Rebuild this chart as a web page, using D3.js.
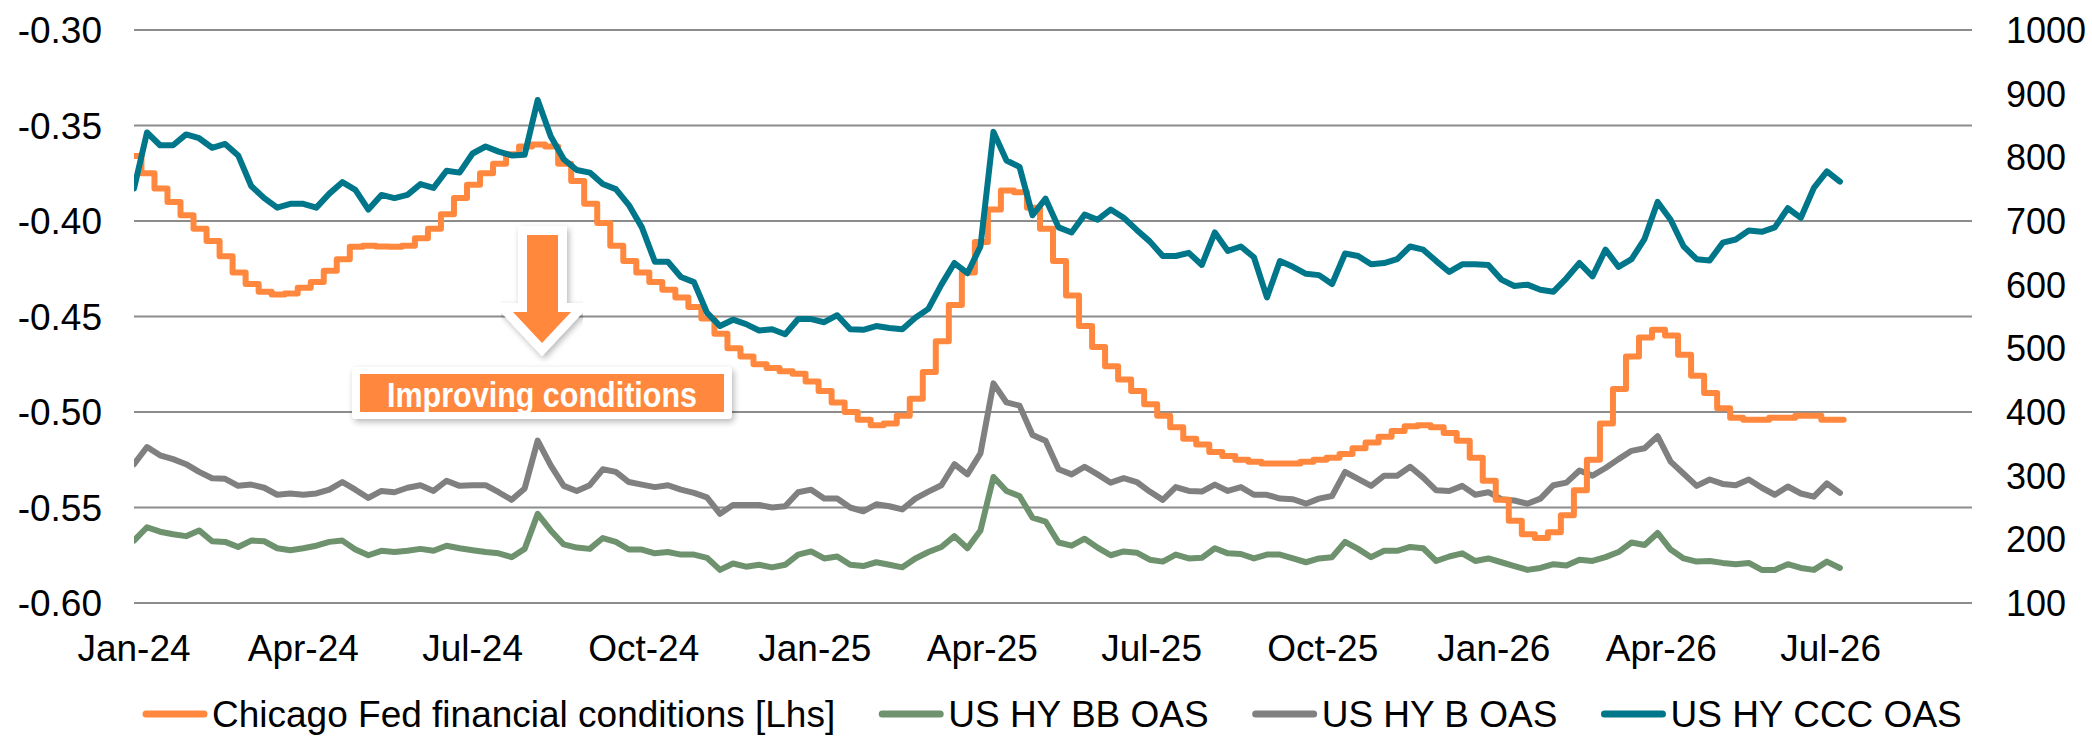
<!DOCTYPE html>
<html>
<head>
<meta charset="utf-8">
<script src="https://cdn.jsdelivr.net/npm/d3@7"></script>
<style>
  html, body { margin: 0; padding: 0; background: #fff; }
  svg { display: block; font-family: "Liberation Sans", Arial, sans-serif; }
</style>
</head>
<body>
<div id="app"></div>
<script>
// ---- data ----

// Chicago Fed NFCI, weekly readings starting 29 Dec 2023 (left axis)
const nfciStart = new Date(2023, 11, 29)
const nfciEnd = new Date(2026, 6, 8)
const nfci = [
  -0.366, -0.375, -0.383, -0.390, -0.397, -0.404, -0.4105, -0.4185, -0.427, -0.433,
  -0.437, -0.4385, -0.438, -0.435, -0.432, -0.426, -0.420, -0.4135, -0.413, -0.4133,
  -0.4135, -0.413, -0.409, -0.404, -0.3965, -0.388, -0.381, -0.375, -0.370, -0.365,
  -0.361, -0.360, -0.361, -0.370, -0.379, -0.391, -0.401, -0.413, -0.421, -0.427,
  -0.432, -0.436, -0.440, -0.445, -0.451, -0.459, -0.4666, -0.471, -0.475, -0.477,
  -0.4786, -0.480, -0.484, -0.489, -0.495, -0.500, -0.504, -0.507, -0.506, -0.502,
  -0.493, -0.479, -0.463, -0.444, -0.427, -0.411, -0.394, -0.384, -0.385, -0.393,
  -0.404, -0.421, -0.439, -0.455, -0.466, -0.476, -0.483, -0.489, -0.496, -0.502,
  -0.508, -0.514, -0.517, -0.521, -0.523, -0.525, -0.526, -0.527, -0.527, -0.527,
  -0.526, -0.525, -0.524, -0.522, -0.519, -0.516, -0.513, -0.510, -0.5075, -0.507,
  -0.508, -0.511, -0.515, -0.524, -0.536, -0.546, -0.557, -0.564, -0.566, -0.563,
  -0.554, -0.541, -0.525, -0.506, -0.488, -0.471, -0.461, -0.457, -0.460, -0.470,
  -0.481, -0.490, -0.498, -0.503, -0.504, -0.504, -0.503, -0.503, -0.502, -0.502,
  -0.504, -0.504
]

// HY OAS (bp), weekly readings starting 1 Jan 2024 (right axis)
const spreadStart = new Date(2024, 0, 1)
const hyBB = [
  198, 219, 212, 208, 205, 214, 197, 196, 188, 198,
  197, 186, 183, 186, 190, 196, 198, 184, 175, 182,
  180, 182, 185, 182, 190, 186, 183, 180, 178, 172,
  185, 240, 214, 192, 187, 185, 202, 196, 184, 184,
  178, 180, 176, 176, 171, 152, 162, 157, 160, 156,
  160, 176, 181, 170, 173, 160, 158, 164, 160, 156,
  170, 180, 188, 205, 186, 214, 298, 276, 268, 234,
  228, 195, 190, 201, 187, 175, 181, 179, 168, 165,
  176, 170, 171, 186, 178, 177, 170, 176, 176, 170,
  164, 170, 172, 196, 185, 172, 182, 182, 188, 186,
  166, 173, 178, 166, 170, 164, 158, 152, 155, 161,
  159, 168, 166, 172, 180, 195, 191, 210, 184, 170,
  165, 166, 163, 161, 163, 152, 152, 161, 155, 152,
  165, 155
]
const hyB = [
  318, 345, 332, 326, 318, 306, 296, 295, 284, 286,
  281, 270, 272, 270, 272, 278, 290, 278, 265, 276,
  274, 281, 285, 276, 292, 284, 285, 285, 274, 262,
  280, 355, 316, 284, 276, 285, 310, 306, 290, 286,
  282, 285, 278, 273, 266, 240, 254, 254, 254, 250,
  252, 274, 278, 264, 264, 250, 244, 255, 252, 247,
  264, 275, 285, 318, 302, 335, 445, 415, 410, 364,
  355, 310, 302, 314, 302, 289, 296, 290, 275, 262,
  282, 276, 275, 286, 276, 282, 270, 270, 264, 263,
  256, 264, 268, 306, 295, 284, 300, 300, 314, 297,
  277, 276, 284, 270, 274, 263, 261, 256, 264, 285,
  289, 308, 300, 312, 326, 339, 343, 362, 322, 303,
  284, 294, 287, 285, 294, 281, 270, 283, 272, 267,
  288, 273
]
const hyCCC = [
  751, 839, 819, 819, 836, 830, 815, 821, 803, 755,
  736, 721, 727, 727, 721, 743, 761, 749, 718, 741,
  736, 741, 758, 752, 779, 776, 806, 817, 809, 803,
  804, 890, 833, 797, 780, 776, 758, 750, 725, 690,
  636, 636, 612, 604, 556, 535, 545, 538, 528, 530,
  522, 546, 546, 541, 552, 530, 529, 535, 532, 530,
  548, 562, 600, 634, 618, 660, 840, 795, 785, 709,
  735, 690, 682, 710, 702, 718, 705, 686, 668, 645,
  645, 650, 631, 682, 653, 660, 643, 580, 637, 628,
  617, 615, 601, 649, 645, 632, 634, 640, 660, 655,
  637, 620, 632, 632, 631, 608, 598, 600, 592, 589,
  610, 634, 613, 655, 628, 640, 672, 730, 702, 660,
  640, 638, 666, 671, 685, 683, 690, 720, 705, 752,
  778, 762
]

const leftTicks = [-0.60, -0.55, -0.50, -0.45, -0.40, -0.35, -0.30]
const rightTicks = [100, 200, 300, 400, 500, 600, 700, 800, 900, 1000]
const seriesNames = ['Chicago Fed financial conditions [Lhs]', 'US HY BB OAS', 'US HY B OAS', 'US HY CCC OAS']
const seriesColors = ['#ff883e', '#6f926e', '#808080', '#00768a']
const annotationText = 'Improving conditions'

// ---- layout ----
const width = 2092, height = 737
const plot = {left: 134, right: 1972, top: 30, bottom: 603}

const svg = d3.select('#app').append('svg')
  .attr('width', width)
  .attr('height', height)

const x = d3.scaleTime()
  .domain([new Date(2024, 0, 1), new Date(2026, 8, 15)])
  .range([plot.left, plot.right])
const yL = d3.scaleLinear().domain([-0.60, -0.30]).range([plot.bottom, plot.top])
const yR = d3.scaleLinear().domain([100, 1000]).range([plot.bottom, plot.top])

const defs = svg.append('defs')
defs.append('clipPath').attr('id', 'plotclip')
  .append('rect')
    .attr('x', plot.left).attr('y', 0)
    .attr('width', width - plot.left).attr('height', height)
const shadow = defs.append('filter').attr('id', 'shadow')
  .attr('x', '-20%').attr('y', '-20%').attr('width', '140%').attr('height', '160%')
shadow.append('feDropShadow')
  .attr('dx', 2).attr('dy', 3).attr('stdDeviation', 3)
  .attr('flood-color', '#000').attr('flood-opacity', 0.28)

// gridlines (left axis ticks)
svg.append('g')
  .selectAll('line')
  .data(leftTicks)
  .enter().append('line')
    .attr('x1', plot.left).attr('x2', plot.right)
    .attr('y1', d => yL(d)).attr('y2', d => yL(d))
    .attr('stroke', '#8c8c8c')
    .attr('stroke-width', 2)

// left axis labels (Excel style hyphen, not unicode minus)
const fmtLeft = d => d3.format('.2f')(d).replace('\u2212', '-')
svg.append('g')
  .selectAll('text')
  .data(leftTicks)
  .enter().append('text')
    .attr('x', 102)
    .attr('y', d => yL(d) + 13)
    .attr('text-anchor', 'end')
    .style('font-size', '37px')
    .style('fill', '#000')
    .text(fmtLeft)

// right axis labels
svg.append('g')
  .selectAll('text')
  .data(rightTicks)
  .enter().append('text')
    .attr('x', 2006)
    .attr('y', d => yR(d) + 13)
    .style('font-size', '36px')
    .style('fill', '#000')
    .text(d => d)

// x axis labels
const xTicks = d3.timeMonth.range(new Date(2024, 0, 1), new Date(2026, 7, 1), 3)
svg.append('g')
  .selectAll('text')
  .data(xTicks)
  .enter().append('text')
    .attr('x', d => x(d))
    .attr('y', 661)
    .attr('text-anchor', 'middle')
    .style('font-size', '37px')
    .style('fill', '#000')
    .text(d => d3.timeFormat('%b-%y')(d))

// series
const weekly = (start, values) => values.map((v, i) => ({date: d3.timeDay.offset(start, 7 * i), value: v}))

const nfciData = weekly(nfciStart, nfci)
nfciData.push({date: nfciEnd, value: nfci[nfci.length - 1]})

const lines = svg.append('g').attr('clip-path', 'url(#plotclip)')

const rightLine = d3.line().x(d => x(d.date)).y(d => yR(d.value))
const leftLine = d3.line().x(d => x(d.date)).y(d => yL(d.value)).curve(d3.curveStepAfter)

const drawLine = (data, gen, color) => lines.append('path')
  .datum(data)
  .attr('d', gen)
  .attr('fill', 'none')
  .attr('stroke', color)
  .attr('stroke-width', 6)
  .attr('stroke-linejoin', 'round')
  .attr('stroke-linecap', 'round')

drawLine(weekly(spreadStart, hyBB), rightLine, seriesColors[1])
drawLine(weekly(spreadStart, hyB), rightLine, seriesColors[2])
drawLine(nfciData, leftLine, seriesColors[0])
drawLine(weekly(spreadStart, hyCCC), rightLine, seriesColors[3])

// annotation: arrow + label box
const arrow = [[527, 235], [558, 235], [558, 312], [571, 312], [542, 343], [513, 312], [527, 312]]
svg.append('polygon')
  .attr('points', arrow.map(p => p.join(',')).join(' '))
  .attr('fill', '#ff883e')
  .attr('stroke', '#fff')
  .attr('stroke-width', 18)
  .attr('stroke-linejoin', 'miter')
  .style('paint-order', 'stroke')
  .attr('filter', 'url(#shadow)')

const box = svg.append('g')
box.append('rect')
  .attr('x', 352).attr('y', 367)
  .attr('width', 380).attr('height', 52)
  .attr('rx', 4)
  .attr('fill', '#fff')
  .attr('filter', 'url(#shadow)')
box.append('rect')
  .attr('x', 360).attr('y', 374)
  .attr('width', 364).attr('height', 38)
  .attr('fill', '#ff883e')
box.append('text')
  .attr('x', 387).attr('y', 407)
  .attr('textLength', 310)
  .attr('lengthAdjust', 'spacingAndGlyphs')
  .style('font-family', '"Liberation Sans Narrow", "Arial Narrow", "Liberation Sans", Arial, sans-serif')
  .style('font-weight', 'bold')
  .style('font-size', '35px')
  .style('fill', '#fff')
  .text(annotationText)

// legend
const legend = svg.append('g')
let lx = 143
seriesNames.forEach((name, i) => {
  legend.append('line')
    .attr('x1', lx + 3).attr('x2', lx + 61)
    .attr('y1', 714).attr('y2', 714)
    .attr('stroke', seriesColors[i])
    .attr('stroke-width', 7)
    .attr('stroke-linecap', 'round')
  const t = legend.append('text')
    .attr('x', lx + 69)
    .attr('y', 727)
    .style('font-size', '37px')
    .style('fill', '#000')
    .text(name)
  lx = lx + 69 + t.node().getComputedTextLength() + 44
})
</script>
</body>
</html>
